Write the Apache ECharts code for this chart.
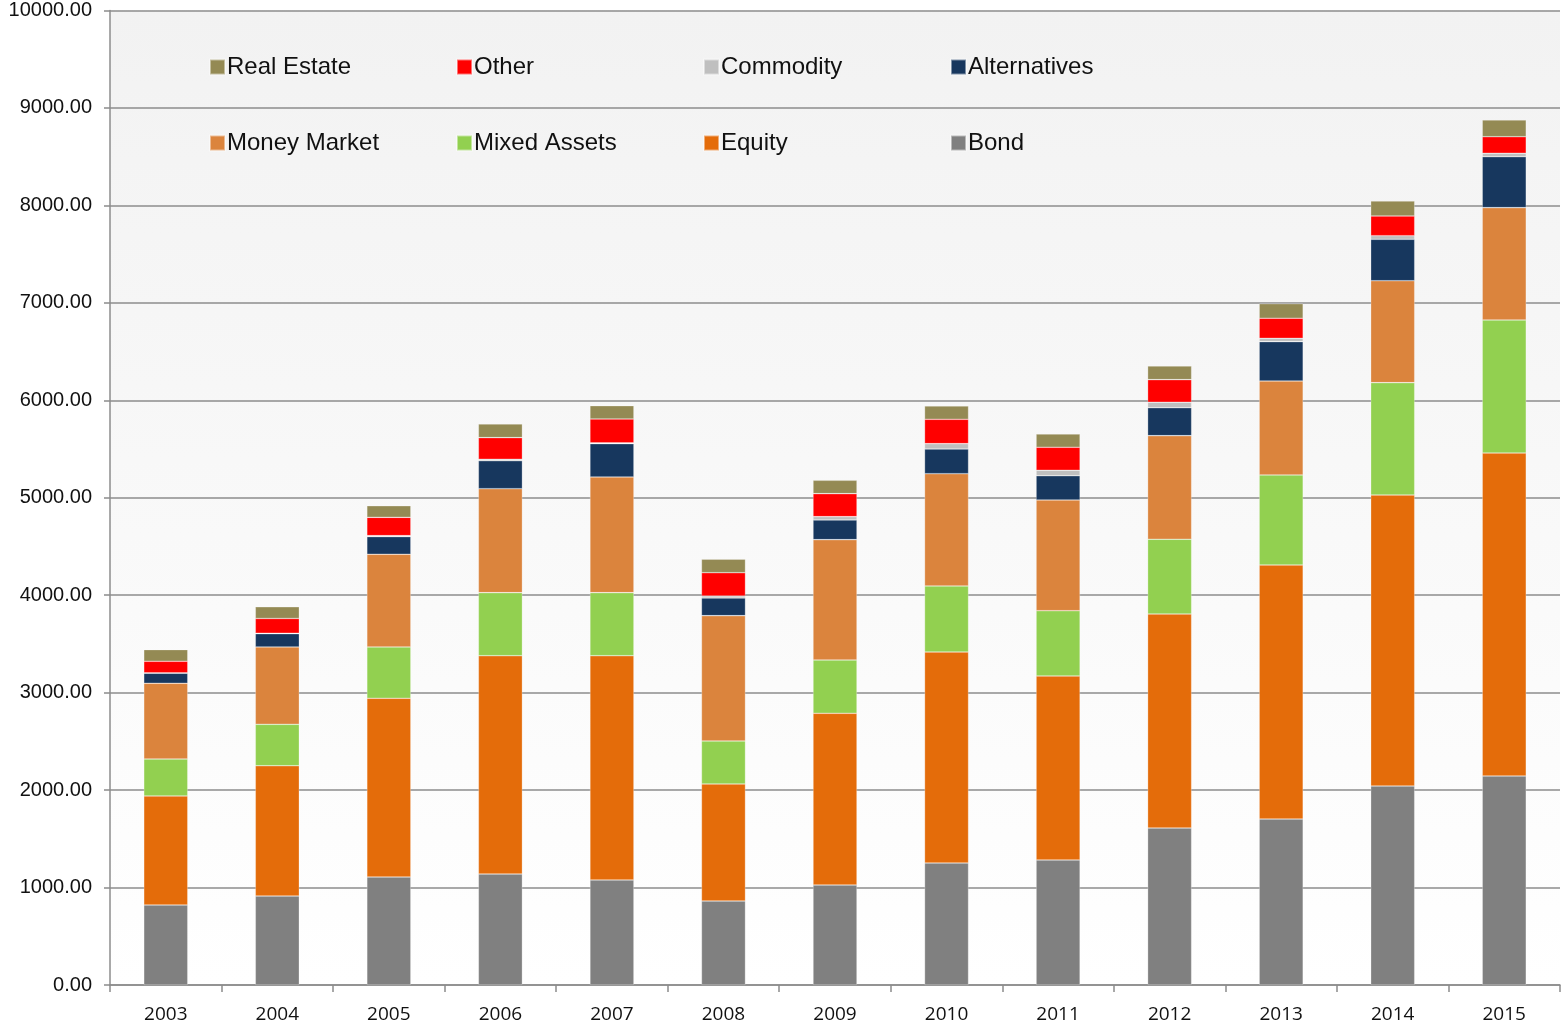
<!DOCTYPE html>
<html>
<head>
<meta charset="utf-8">
<script src="https://cdn.jsdelivr.net/npm/echarts@6/dist/echarts.min.js"></script>
<style>html,body{margin:0;padding:0;background:#fff;}#c{width:1566px;height:1030px;}</style>
</head>
<body>
<div id="c"></div>
<script>
const years = ['2003','2004','2005','2006','2007','2008','2009','2010','2011','2012','2013','2014','2015'];
const bond        = [821, 913, 1108, 1139, 1078, 862, 1026, 1252, 1283, 1611, 1703, 2042, 2145];
const equity      = [1119, 1337, 1834, 2240, 2301, 1201, 1762, 2165, 1888, 2196, 2607, 2986, 3314];
const mixedAssets = [379, 425, 527, 647, 647, 441, 547, 678, 670, 767, 924, 1153, 1365];
const moneyMarket = [777, 794, 951, 1067, 1187, 1286, 1235, 1152, 1136, 1063, 964, 1046, 1153];
const alternatives= [103, 136, 181, 287, 342, 181, 202, 253, 249, 287, 404, 425, 523];
const commodity   = [4, 5, 10, 15, 8, 21, 34, 55, 56, 56, 34, 37, 35];
const other       = [119, 151, 188, 222, 245, 239, 236, 250, 236, 232, 206, 202, 170];
const realEstate  = [120, 120, 119, 140, 137, 138, 137, 137, 136, 140, 150, 154, 172];
const yTicks = [0,1000,2000,3000,4000,5000,6000,7000,8000,9000,10000];

const seriesDefs = [
  ['Bond', bond, '#808080'],
  ['Equity', equity, '#E46C0A'],
  ['Mixed Assets', mixedAssets, '#92D050'],
  ['Money Market', moneyMarket, '#DB843D'],
  ['Alternatives', alternatives, '#17375E'],
  ['Commodity', commodity, '#BFBFBF'],
  ['Other', other, '#FF0000'],
  ['Real Estate', realEstate, '#948A54']
];

const legendPos = [
  ['Real Estate', 204, 50], ['Other', 451, 50], ['Commodity', 698, 50], ['Alternatives', 945, 50],
  ['Money Market', 204, 126], ['Mixed Assets', 451, 126], ['Equity', 698, 126], ['Bond', 945, 126]
];

const chart = echarts.init(document.getElementById('c'));
chart.setOption({
  animation: false,
  backgroundColor: '#ffffff',
  grid: {
    left: 110, right: 6, top: 10.5, bottom: 45, show: true, borderWidth: 0,
    backgroundColor: new echarts.graphic.LinearGradient(0,0,0,1,[{offset:0,color:'#F2F2F2'},{offset:1,color:'#FFFFFF'}])
  },
  legend: legendPos.map(([n,x,y]) => ({
    data: [n], left: x, top: y, itemWidth: 15, itemHeight: 15, itemGap: 0,
    icon: 'rect', selectedMode: false,
    textStyle: { fontFamily: 'Liberation Sans', fontSize: 24, color: '#111', padding: [0,0,0,-3] }
  })),
  xAxis: {
    type: 'category', data: years, boundaryGap: true,
    axisLine: { lineStyle: { color: '#8c8c8c', width: 1.5 } },
    axisTick: { show: true, length: 7, alignWithLabel: false, lineStyle: { color: '#8c8c8c', width: 1.5 } },
    axisLabel: { fontFamily: 'Open Sans', fontSize: 19, color: '#111', margin: 20 }
  },
  yAxis: {
    type: 'value', min: 0, max: 10000, interval: 1000,
    axisLine: { show: true, lineStyle: { color: '#8c8c8c', width: 1.5 } },
    axisTick: { show: true, length: 6, lineStyle: { color: '#8c8c8c', width: 1.5 } },
    splitLine: { lineStyle: { color: '#8c8c8c', width: 1.5 } },
    axisLabel: { fontFamily: 'Liberation Sans', fontSize: 20, color: '#111', margin: 18,
      formatter: v => v.toFixed(2) }
  },
  series: seriesDefs.map(([n, d, c]) => ({
    name: n, type: 'bar', stack: 'total', data: d, barWidth: 44,
    itemStyle: { color: c, borderColor: 'rgba(255,255,255,0.45)', borderWidth: 0.6 }
  }))
});
</script>
</body>
</html>
